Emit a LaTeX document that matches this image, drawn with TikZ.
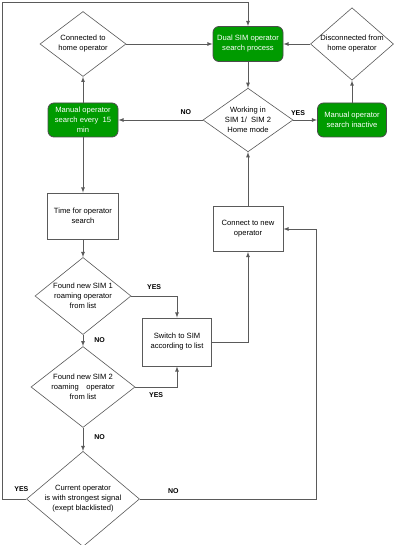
\documentclass[tikz,border=0pt]{standalone}
\usepackage{fontspec}
\setmainfont{Liberation Sans}
\usetikzlibrary{shapes.geometric, arrows, positioning}
\definecolor{boxgreen}{RGB}{0,155,0}
\definecolor{linegray}{RGB}{90,90,90}

\begin{document}
\begin{tikzpicture}[x=1pt, y=-1pt, ->, >=latex, auto, on grid, font=\fontsize{7.6}{10}\selectfont,
    every edge/.style={draw=linegray, line width=0.8pt}]
      \tikzstyle{process}=[rectangle, draw=linegray, line width=0.8pt, fill=white, text=black, align=center, inner sep=2pt]
      \tikzstyle{greenbox}=[process, rounded corners=6pt, fill=boxgreen, draw=black!70, text=white]
      \tikzstyle{decision}=[diamond, draw=linegray, line width=0.6pt, fill=white, text=black, align=center, inner sep=-2pt]
      \tikzstyle{answer}=[font=\fontsize{7}{8}\selectfont\bfseries, inner sep=1pt, text=black]
      \tikzstyle{wire}=[draw=linegray, line width=0.8pt]
      \useasboundingbox (0,0) rectangle (400,545);
      \node[greenbox, minimum width=70pt, minimum height=35pt] (dual) at (248,44) {Dual SIM operator\\search process};
      \node[decision, minimum width=86pt, minimum height=65pt] (home) [left=165pt of dual] {Connected to\\home operator};
      \node[decision, minimum width=83pt, minimum height=65pt] (away) [right=104pt of dual] {Disconnected from\\home operator};
      \node[decision, minimum width=90pt, minimum height=58pt] (mode) [below=76pt of dual] {Working in\\SIM 1/\ \ SIM 2\\Home mode};
      \node[greenbox, minimum width=70pt, minimum height=34pt] (manual) [below=76pt of home] {Manual operator\\search every\ \ 15\\min};
      \node[greenbox, minimum width=69pt, minimum height=34pt] (idle) [below=76pt of away] {Manual operator\\search inactive};
      \node[process, minimum width=71pt, minimum height=46pt] (timer) [below=96pt of manual] {Time for operator\\search};
      \node[decision, minimum width=96pt, minimum height=63pt] (simone) [below=80pt of timer] {Found new SIM 1\\roaming operator\\from list};
      \node[decision, minimum width=104pt, minimum height=76pt] (simtwo) [below=91pt of simone] {Found new SIM 2\\roaming\hspace{1em}operator\\from list};
      \node[decision, minimum width=113pt, minimum height=86pt] (best) [below=112pt of simtwo] {Current operator\\is with strongest signal\\(exept blacklisted)};
      \node[process, minimum width=69pt, minimum height=48pt] (switch) [below right=46pt and 94pt of simone] {Switch to SIM\\according to list};
      \node[process, minimum width=70pt, minimum height=45pt] (connect) [below=109pt of mode] {Connect to new\\operator};
      \coordinate (corner) at (2,2);
      \coordinate (bend) at (316,499);
      \path (home) edge (dual);
      \path (away) edge (dual);
      \path (dual) edge (mode);
      \path (mode.east) edge node[answer, pos=0.2, above=3pt] {YES} (idle.west);
      \path (mode.west) edge node[answer, pos=0.2, above=4pt] {NO} (manual.east);
      \path (idle) edge (away);
      \path (manual) edge (home);
      \path (manual) edge (timer);
      \path (timer) edge (simone);
      \path (simone) edge node[answer, right=10pt] {NO} (simtwo);
      \path (simtwo) edge node[answer, right=10pt, pos=0.4] {NO} (best);
      \path (connect) edge (mode);
      \draw[wire] (simone.east) -| node[answer, pos=0.25, above=5pt] {YES} (switch.north);
      \draw[wire] (simtwo.east) -| node[answer, pos=0.25, below=4pt] {YES} (switch.south);
      \draw[wire] (switch.east) -| (connect.south);
      \draw[wire] (best.west) -| node[answer, pos=0.1, above=6pt] {YES} (corner) -| (dual.north);
      \draw[wire] (best.east) -- node[answer, pos=0.19, above=4pt] {NO} (bend) |- (connect.east);
    \end{tikzpicture}
\end{document}
